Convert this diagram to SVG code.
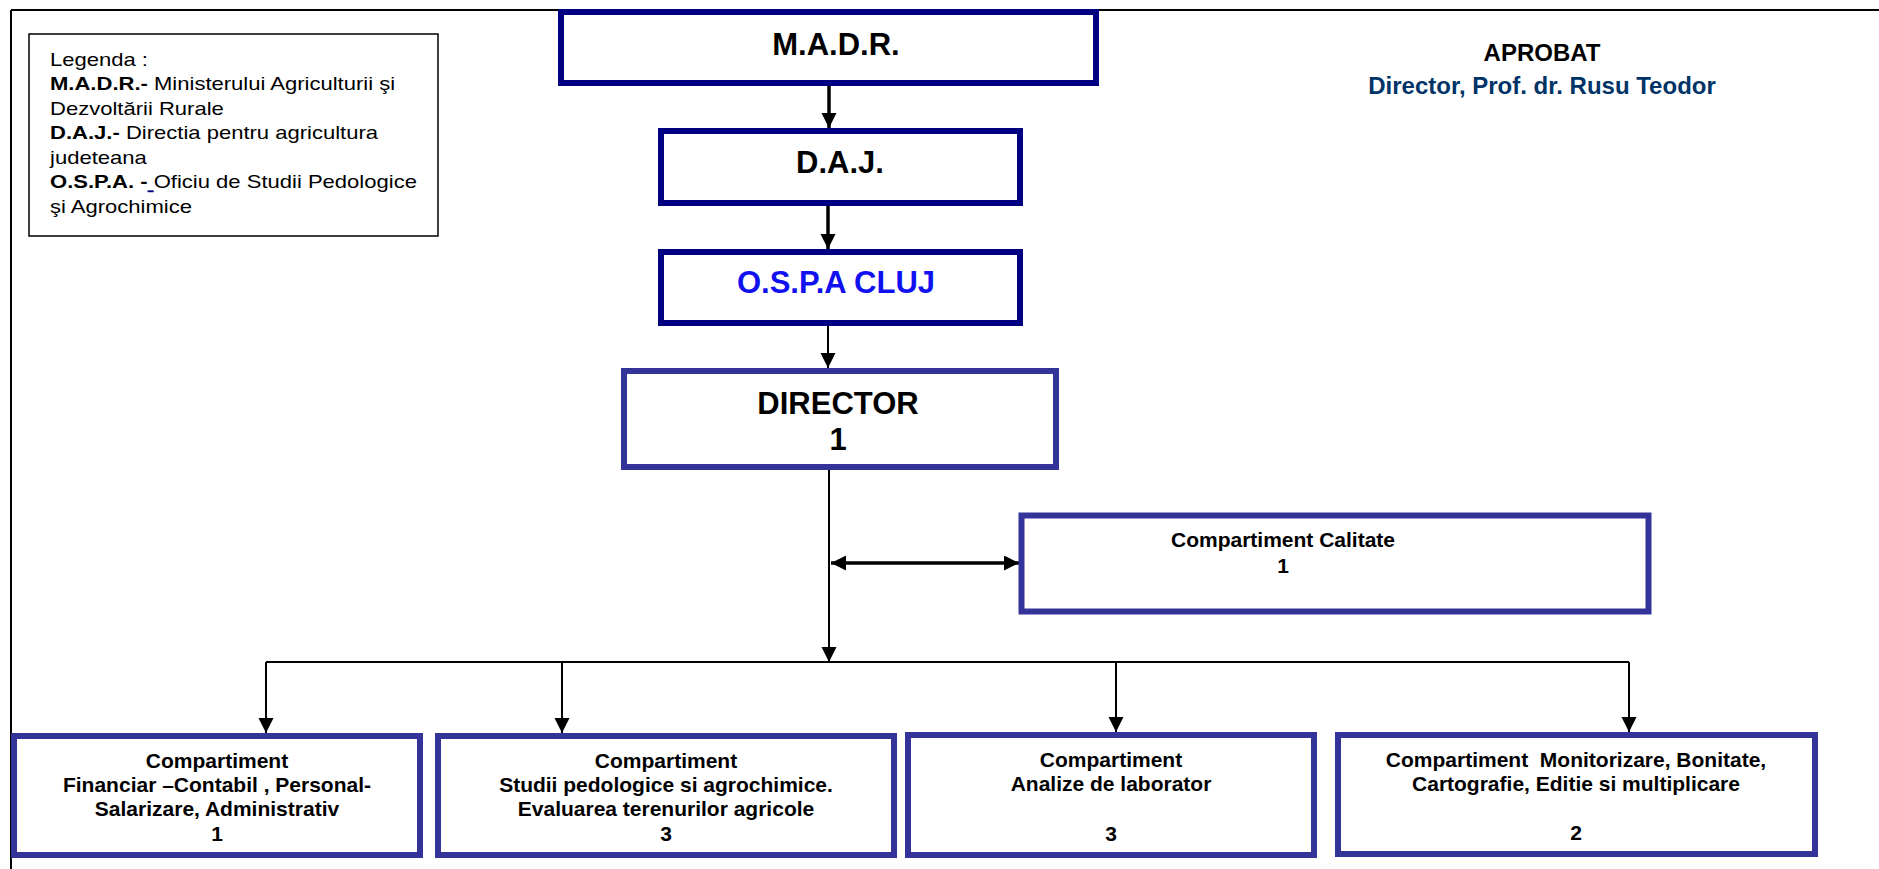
<svg xmlns="http://www.w3.org/2000/svg" width="1879" height="869" viewBox="0 0 1879 869">
<style>
text{font-family:"Liberation Sans",Arial,sans-serif;fill:#000}
.b{font-weight:bold}
.top{fill:#fff;stroke:#000080;stroke-width:6}
.box{fill:#fff;stroke:#333399;stroke-width:6}
.big{font-size:31px;font-weight:bold;text-anchor:middle}
.cmp{font-size:21px;font-weight:bold;text-anchor:middle}
.leg{font-size:19px}
.ln{stroke:#000;stroke-width:2;fill:none}
.thk{stroke:#000;stroke-width:3.5;fill:none}
</style>
<defs>
<marker id="ah" markerUnits="userSpaceOnUse" markerWidth="16" markerHeight="16" refX="15" refY="7.5" orient="auto">
<path d="M0,0 L15,7.5 L0,15 z" fill="#000"/>
</marker>
<marker id="ahs" markerUnits="userSpaceOnUse" markerWidth="16" markerHeight="16" refX="15" refY="7.5" orient="auto-start-reverse">
<path d="M0,0 L15,7.5 L0,15 z" fill="#000"/>
</marker>
</defs>
<g id="frame">
<line x1="11" y1="10" x2="1879" y2="10" stroke="#000" stroke-width="2"/>
<line x1="11" y1="10" x2="11" y2="869" stroke="#000" stroke-width="2"/>
</g>
<g id="legend">
<rect x="29" y="34" width="409" height="202" fill="#fff" stroke="#000" stroke-width="1.5"/>
<g transform="translate(50 0) scale(1.16 1)">
<text class="leg" x="0" y="66">Legenda :</text>
<text class="leg" x="0" y="90.5"><tspan class="b">M.A.D.R.-</tspan> Ministerului Agriculturii şi</text>
<text class="leg" x="0" y="115">Dezvoltării Rurale</text>
<text class="leg" x="0" y="139.5"><tspan class="b">D.A.J.-</tspan> Directia pentru  agricultura</text>
<text class="leg" x="0" y="164">judeteana</text>
<text class="leg" x="0" y="188.5" xml:space="preserve"><tspan class="b">O.S.P.A. -</tspan><tspan fill="#000080" text-decoration="underline"> </tspan>Oficiu de Studii Pedologice</text>
<text class="leg" x="0" y="213">şi Agrochimice</text>
</g>
</g>
<g id="aprobat">
<text x="1542" y="61" font-size="24" font-weight="bold" text-anchor="middle">APROBAT</text>
<text x="1542" y="94" font-size="24" font-weight="bold" text-anchor="middle" style="fill:#003366">Director, Prof. dr. Rusu Teodor</text>
</g>
<g id="connectors">
<line class="thk" x1="829" y1="86" x2="829" y2="128" marker-end="url(#ah)"/>
<line class="thk" x1="828" y1="206" x2="828" y2="249" marker-end="url(#ah)"/>
<line class="ln" x1="828" y1="326" x2="828" y2="368" marker-end="url(#ah)"/>
<line class="ln" x1="829" y1="470" x2="829" y2="662" marker-end="url(#ah)"/>
<line class="thk" x1="831" y1="563" x2="1019" y2="563" marker-start="url(#ahs)" marker-end="url(#ahs)"/>
<line class="ln" x1="266" y1="662" x2="1629" y2="662"/>
<line class="ln" x1="266" y1="662" x2="266" y2="733" marker-end="url(#ah)"/>
<line class="ln" x1="562" y1="662" x2="562" y2="733" marker-end="url(#ah)"/>
<line class="ln" x1="1116" y1="662" x2="1116" y2="732" marker-end="url(#ah)"/>
<line class="ln" x1="1629" y1="662" x2="1629" y2="732" marker-end="url(#ah)"/>
</g>
<g id="madr">
<rect class="top" x="561" y="12" width="535" height="71"/>
<text class="big" x="836" y="55">M.A.D.R.</text>
</g>
<g id="daj">
<rect class="top" x="661" y="131" width="359" height="72"/>
<text class="big" x="840" y="173">D.A.J.</text>
</g>
<g id="ospa">
<rect class="top" x="661" y="252" width="359" height="71"/>
<text class="big" x="836" y="293" style="fill:#1010f0">O.S.P.A CLUJ</text>
</g>
<g id="director">
<rect class="box" x="624" y="371" width="432" height="96"/>
<text class="big" x="838" y="414" font-size="35">DIRECTOR</text>
<text class="big" x="838" y="450" font-size="35">1</text>
</g>
<g id="calitate">
<rect class="box" x="1021.5" y="515.5" width="627" height="96" stroke-width="5"/>
<text class="cmp" x="1283" y="547">Compartiment Calitate</text>
<text class="cmp" x="1283" y="573">1</text>
</g>
<g id="financiar">
<rect class="box" x="14" y="736" width="406" height="119"/>
<text class="cmp" x="217" y="768">Compartiment</text>
<text class="cmp" x="217" y="792">Financiar –Contabil , Personal-</text>
<text class="cmp" x="217" y="816">Salarizare, Administrativ</text>
<text class="cmp" x="217" y="841">1</text>
</g>
<g id="studii">
<rect class="box" x="438" y="736" width="456" height="119"/>
<text class="cmp" x="666" y="768">Compartiment</text>
<text class="cmp" x="666" y="792">Studii pedologice si agrochimice.</text>
<text class="cmp" x="666" y="816">Evaluarea terenurilor agricole</text>
<text class="cmp" x="666" y="841">3</text>
</g>
<g id="analize">
<rect class="box" x="908" y="735" width="406" height="120"/>
<text class="cmp" x="1111" y="767">Compartiment</text>
<text class="cmp" x="1111" y="791">Analize de laborator</text>
<text class="cmp" x="1111" y="841">3</text>
</g>
<g id="monitorizare">
<rect class="box" x="1338" y="735" width="477" height="119"/>
<text class="cmp" x="1576" y="767" xml:space="preserve">Compartiment  Monitorizare, Bonitate,</text>
<text class="cmp" x="1576" y="791">Cartografie, Editie si multiplicare</text>
<text class="cmp" x="1576" y="840">2</text>
</g>
</svg>
